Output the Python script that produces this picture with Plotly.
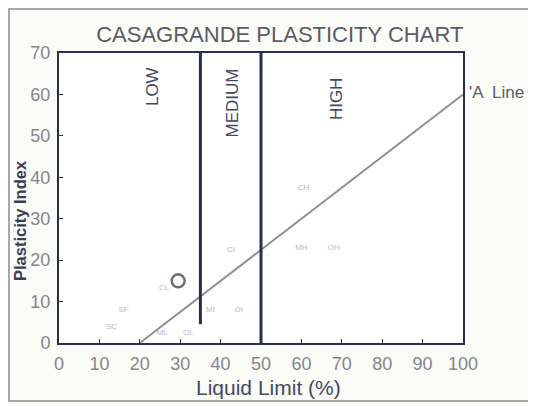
import plotly.graph_objects as go

# ---- data ----
divider_ll = [35, 50]
divider_pi_bottom = [4.5, 0]
divider_pi_top = [70, 70]

a_line_ll = [20, 100]
a_line_pi = [0, 60]

group_labels = ["SF", "SC", "CL", "ML", "OL", "MI", "OI", "CI", "CH", "MH", "OH"]
group_ll = [16, 13, 26, 25.5, 32, 37.5, 44.5, 42.5, 60.5, 60, 68]
group_pi = [8, 3.8, 13.3, 2.4, 2.4, 8, 8, 22.5, 37.5, 23, 23]

point_ll = [29.5]
point_pi = [15]

zone_labels = ["LOW", "MEDIUM", "HIGH"]
zone_ll = [23, 43, 68.7]
zone_pi = [62, 58, 59]

x_ticks = [0, 10, 20, 30, 40, 50, 60, 70, 80, 90, 100]
y_ticks = [0, 10, 20, 30, 40, 50, 60, 70]

fig = go.Figure()

# A-line
fig.add_trace(go.Scatter(x=a_line_ll, y=a_line_pi, mode="lines",
                         line=dict(color="#8f8f98", width=2), hoverinfo="skip"))

# Divider lines (low / medium / high)
for xv, yb, yt in zip(divider_ll, divider_pi_bottom, divider_pi_top):
    fig.add_trace(go.Scatter(x=[xv, xv], y=[yb, yt], mode="lines",
                             line=dict(color="#2b2f4f", width=3), hoverinfo="skip"))

# Group symbols (faint)
fig.add_trace(go.Scatter(x=group_ll, y=group_pi, mode="text", text=group_labels,
                         textfont=dict(family="Liberation Sans", size=8, color="#b8b8c0"),
                         hoverinfo="skip"))

# Open circle point
fig.add_trace(go.Scatter(x=point_ll, y=point_pi, mode="markers",
                         marker=dict(symbol="circle-open", size=13,
                                     color="#6e6e78", line=dict(width=2.5)),
                         hoverinfo="skip"))

# Zone labels, rotated
for t, xv, yv in zip(zone_labels, zone_ll, zone_pi):
    fig.add_annotation(x=xv, y=yv, text=t, showarrow=False, textangle=-90,
                       font=dict(family="Liberation Sans", size=17, color="#45485e"))

# A line label (paper coords so it can sit outside the plot area)
fig.add_annotation(xref="paper", yref="paper", x=1.01, y=251 / 290, text="'A  Line",
                   showarrow=False, xanchor="left", yanchor="middle",
                   font=dict(family="Liberation Sans", size=17, color="#5a5c70"))

# Axis titles
fig.add_annotation(xref="paper", yref="paper", x=(268 - 59) / 404, y=(343 - 387) / 290,
                   text="Liquid Limit (%)", showarrow=False,
                   xanchor="center", yanchor="middle",
                   font=dict(family="Liberation Sans", size=21, color="#45485e"))
fig.add_annotation(xref="paper", yref="paper", x=(20 - 59) / 404, y=(343 - 221) / 290,
                   text="<b>Plasticity Index</b>", showarrow=False, textangle=-90,
                   xanchor="center", yanchor="middle",
                   font=dict(family="Liberation Sans", size=16.5, color="#3a3d55"))

fig.update_layout(
    width=536, height=406,
    margin=dict(l=51, r=81, t=45, b=71, autoexpand=False),
    paper_bgcolor="#fbfbf8", plot_bgcolor="#ffffff",
    showlegend=False,
    title=dict(text="CASAGRANDE PLASTICITY CHART", x=0.507, xanchor="center",
               y=0.936, yanchor="middle",
               font=dict(family="Liberation Sans", size=22, color="#5a5c66")),
    xaxis=dict(range=[0, 100], tickvals=x_ticks, showgrid=False, zeroline=False,
               showline=True, linecolor="#2b2f4f", linewidth=2, mirror=True,
               ticks="inside", ticklen=4, tickcolor="#2b2f4f", ticklabelstandoff=3,
               tickfont=dict(family="Liberation Sans", size=18, color="#85858c")),
    yaxis=dict(range=[0, 70], tickvals=y_ticks, showgrid=False, zeroline=False,
               showline=True, linecolor="#2b2f4f", linewidth=2, mirror=True,
               ticks="inside", ticklen=4, tickcolor="#2b2f4f", ticklabelstandoff=3,
               tickfont=dict(family="Liberation Sans", size=18, color="#85858c")),
)

# scanned frame around the figure
fig.add_shape(type="rect", xref="paper", yref="paper",
              x0=-50 / 404, x1=474 / 404, y0=-58 / 290, y1=334 / 290,
              line=dict(color="#8a8a92", width=1.5))

fig.write_html("out.html")
